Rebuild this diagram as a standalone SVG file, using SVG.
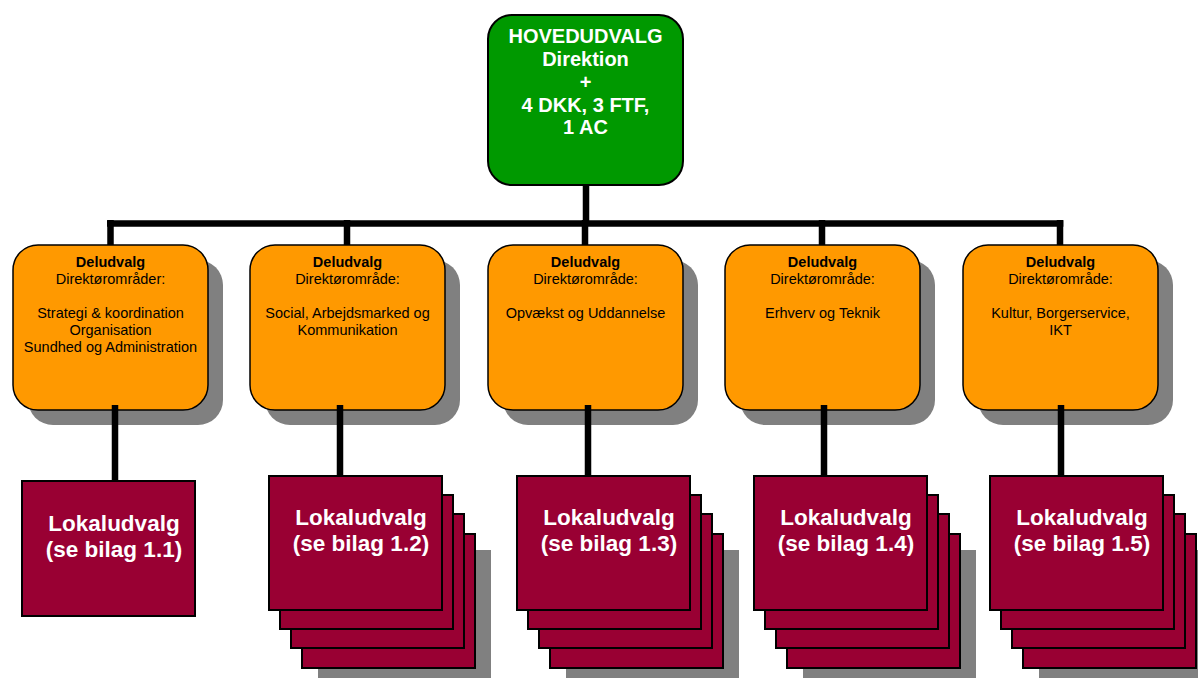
<svg xmlns="http://www.w3.org/2000/svg" width="1198" height="678" viewBox="0 0 1198 678">
<style>
  .green{fill:#009900;stroke:#000;stroke-width:2}
  .org{fill:#FF9900;stroke:#000;stroke-width:1.5}
  .shd{fill:#808080}
  .lok{fill:#990033;stroke:#000;stroke-width:2}
  .conn{stroke:#000;stroke-width:6.5;fill:none;stroke-linecap:butt}
  .wt{font-family:"Liberation Sans",Arial,sans-serif;font-weight:bold;fill:#fff;text-anchor:middle}
  .ot{font-family:"Liberation Sans",Arial,sans-serif;font-size:14.5px;fill:#000;text-anchor:middle}
  .b{font-weight:bold}
</style>
<g id="hovedudvalg">
  <rect class="green" x="488" y="15" width="195" height="170" rx="24"/>
  <text class="wt" font-size="20" x="585.5" y="43">HOVEDUDVALG</text>
  <text class="wt" font-size="20" x="585.5" y="65.5">Direktion</text>
  <text class="wt" font-size="20" x="585.5" y="88.5">+</text>
  <text class="wt" font-size="20" x="585.5" y="111.5">4 DKK, 3 FTF,</text>
  <text class="wt" font-size="20" x="585.5" y="134">1 AC</text>
</g>
<g id="deludvalg1">
  <rect class="shd" x="28" y="260" width="195" height="165" rx="25"/>
  <rect class="org" x="13" y="245" width="195" height="165" rx="25"/>
  <text class="ot b" x="110.5" y="267">Deludvalg</text>
  <text class="ot" x="110.5" y="284">Direktørområder:</text>
  <text class="ot" x="110.5" y="318">Strategi &amp; koordination</text>
  <text class="ot" x="110.5" y="335">Organisation</text>
  <text class="ot" x="110.5" y="352">Sundhed og Administration</text>
</g>
<g id="deludvalg2">
  <rect class="shd" x="265" y="260" width="195" height="165" rx="25"/>
  <rect class="org" x="250" y="245" width="195" height="165" rx="25"/>
  <text class="ot b" x="347.5" y="267">Deludvalg</text>
  <text class="ot" x="347.5" y="284">Direktørområde:</text>
  <text class="ot" x="347.5" y="318">Social, Arbejdsmarked og</text>
  <text class="ot" x="347.5" y="335">Kommunikation</text>
</g>
<g id="deludvalg3">
  <rect class="shd" x="503" y="260" width="195" height="165" rx="25"/>
  <rect class="org" x="488" y="245" width="195" height="165" rx="25"/>
  <text class="ot b" x="585.5" y="267">Deludvalg</text>
  <text class="ot" x="585.5" y="284">Direktørområde:</text>
  <text class="ot" x="585.5" y="318">Opvækst og Uddannelse</text>
</g>
<g id="deludvalg4">
  <rect class="shd" x="740" y="260" width="195" height="165" rx="25"/>
  <rect class="org" x="725" y="245" width="195" height="165" rx="25"/>
  <text class="ot b" x="822.5" y="267">Deludvalg</text>
  <text class="ot" x="822.5" y="284">Direktørområde:</text>
  <text class="ot" x="822.5" y="318">Erhverv og Teknik</text>
</g>
<g id="deludvalg5">
  <rect class="shd" x="978" y="260" width="195" height="165" rx="25"/>
  <rect class="org" x="963" y="245" width="195" height="165" rx="25"/>
  <text class="ot b" x="1060.5" y="267">Deludvalg</text>
  <text class="ot" x="1060.5" y="284">Direktørområde:</text>
  <text class="ot" x="1060.5" y="318">Kultur, Borgerservice,</text>
  <text class="ot" x="1060.5" y="335">IKT</text>
</g>
<g id="lokaludvalg1">
  <rect class="lok" x="22" y="481" width="173" height="135"/>
  <text class="wt" font-size="22.5" x="114" y="531">Lokaludvalg</text>
  <text class="wt" font-size="22.5" x="114" y="557">(se bilag 1.1)</text>
</g>
<g id="lokaludvalg2">
  <rect class="shd" x="318" y="550" width="173" height="134"/>
  <rect class="lok" x="302" y="534" width="173" height="134"/>
  <rect class="lok" x="291" y="514" width="173" height="134"/>
  <rect class="lok" x="280" y="495" width="173" height="134"/>
  <rect class="lok" x="269" y="476" width="173" height="134"/>
  <text class="wt" font-size="22.5" x="361" y="525">Lokaludvalg</text>
  <text class="wt" font-size="22.5" x="361" y="551">(se bilag 1.2)</text>
</g>
<g id="lokaludvalg3">
  <rect class="shd" x="566" y="550" width="173" height="134"/>
  <rect class="lok" x="550" y="534" width="173" height="134"/>
  <rect class="lok" x="539" y="514" width="173" height="134"/>
  <rect class="lok" x="528" y="495" width="173" height="134"/>
  <rect class="lok" x="517" y="476" width="173" height="134"/>
  <text class="wt" font-size="22.5" x="609" y="525">Lokaludvalg</text>
  <text class="wt" font-size="22.5" x="609" y="551">(se bilag 1.3)</text>
</g>
<g id="lokaludvalg4">
  <rect class="shd" x="803" y="550" width="173" height="134"/>
  <rect class="lok" x="787" y="534" width="173" height="134"/>
  <rect class="lok" x="776" y="514" width="173" height="134"/>
  <rect class="lok" x="765" y="495" width="173" height="134"/>
  <rect class="lok" x="754" y="476" width="173" height="134"/>
  <text class="wt" font-size="22.5" x="846" y="525">Lokaludvalg</text>
  <text class="wt" font-size="22.5" x="846" y="551">(se bilag 1.4)</text>
</g>
<g id="lokaludvalg5">
  <rect class="shd" x="1039" y="550" width="173" height="134"/>
  <rect class="lok" x="1023" y="534" width="173" height="134"/>
  <rect class="lok" x="1012" y="514" width="173" height="134"/>
  <rect class="lok" x="1001" y="495" width="173" height="134"/>
  <rect class="lok" x="990" y="476" width="173" height="134"/>
  <text class="wt" font-size="22.5" x="1082" y="525">Lokaludvalg</text>
  <text class="wt" font-size="22.5" x="1082" y="551">(se bilag 1.5)</text>
</g>
<g id="connectors">
  <path class="conn" d="M586 186 V223.5 M107 223.5 H1063.5 M110.5 220 V245 M347 220 V245 M585 220 V245 M822 220 V245 M1060 220 V245"/>
  <path class="conn" d="M115 405 V481 M340 405 V476 M588 405 V476 M824 405 V476 M1061 405 V476"/>
</g>
</svg>
